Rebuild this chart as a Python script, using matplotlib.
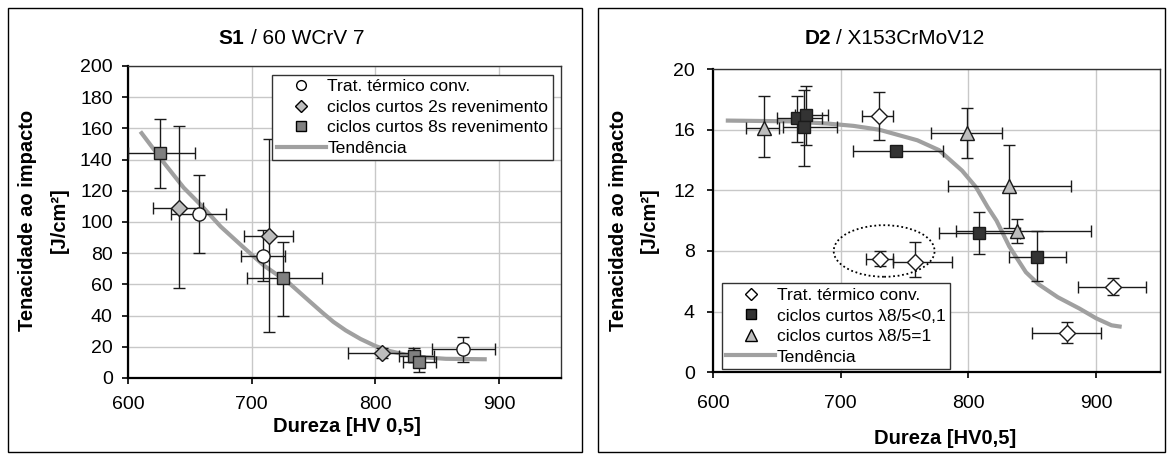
import numpy as np
import matplotlib
matplotlib.use('Agg')
import matplotlib.pyplot as plt
from matplotlib.lines import Line2D
from matplotlib.patches import Ellipse, Rectangle

plt.rcParams['font.family'] = ['Liberation Sans', 'DejaVu Sans']

W, H = 1171, 455

# ---------------- S1 data ----------------
s1_conv_x = [657, 709, 871]
s1_conv_y = [105, 78, 18.6]
s1_conv_xlo = [635, 691, 846]
s1_conv_xhi = [679, 727, 897]
s1_conv_ylo = [80, 62, 10]
s1_conv_yhi = [130, 95, 26.5]

s1_2s_x = [641, 714, 805]
s1_2s_y = [109, 91, 16]
s1_2s_xlo = [620, 694, 778]
s1_2s_xhi = [661, 733, 830]
s1_2s_ylo = [58, 29.5, 13]
s1_2s_yhi = [161.5, 153, 19]

s1_8s_x = [626, 725, 831, 835]
s1_8s_y = [144, 64, 14, 10.5]
s1_8s_xlo = [600, 696, 819, 822]
s1_8s_xhi = [654, 757, 847, 849]
s1_8s_ylo = [122, 39.5, 10, 4]
s1_8s_yhi = [166, 87, 19.4, 14]

s1_trend_x = [610, 630, 645, 660, 675, 693, 710, 730, 747, 757, 766, 776, 788, 800, 812, 825, 840, 857, 890]
s1_trend_y = [158, 137, 122, 110, 97, 84, 72, 61, 49, 42, 36, 30.5, 25, 20.5, 17.2, 14.8, 13.2, 12.3, 12]

# ---------------- D2 data ----------------
d2_conv_x = [730, 731, 758, 913, 877]
d2_conv_y = [16.9, 7.5, 7.3, 5.6, 2.6]
d2_conv_xlo = [717, 720, 741, 886, 850]
d2_conv_xhi = [741, 741, 787, 939, 904]
d2_conv_ylo = [15.3, 7.0, 6.3, 5.1, 1.9]
d2_conv_yhi = [18.5, 8.0, 8.6, 6.2, 3.3]

d2_sq_x = [666, 672.5, 671, 743.5, 808, 854]
d2_sq_y = [16.75, 16.95, 16.2, 14.6, 9.2, 7.6]
d2_sq_xlo = [650, 664, 655, 709.5, 777, 832]
d2_sq_xhi = [685, 690, 697, 780, 840, 876.5]
d2_sq_ylo = [15.2, 15.0, 13.6, 14.4, 7.8, 6.0]
d2_sq_yhi = [18.2, 18.9, 18.6, 14.8, 10.6, 9.3]

d2_tri_x = [640, 799, 832, 838]
d2_tri_y = [16.1, 15.8, 12.3, 9.3]
d2_tri_xlo = [626, 771, 784, 790]
d2_tri_xhi = [652, 826, 880, 896]
d2_tri_ylo = [14.2, 14.1, 9.5, 8.5]
d2_tri_yhi = [18.2, 17.4, 15.0, 10.1]

d2_trend_x = [610, 660, 690, 710, 730, 760, 777, 795, 806, 815, 822, 832, 845, 855, 870, 887, 900, 912, 920]
d2_trend_y = [16.6, 16.55, 16.4, 16.25, 16.0, 15.3, 14.65, 13.3, 12.2, 10.9, 10.0, 8.3, 6.6, 5.8, 4.95, 4.2, 3.56, 3.1, 3.0]

trend_color = '#a0a0a0'


def err(v, lo, hi):
    v = np.array(v, float)
    return [v - np.array(lo, float), np.array(hi, float) - v]


def series(ax, x, y, xlo, xhi, ylo, yhi, marker, fc, ms):
    ax.errorbar(x, y, xerr=err(x, xlo, xhi), yerr=err(y, ylo, yhi),
                fmt='none', ecolor='#1a1a1a', elinewidth=1, capsize=4,
                capthick=1, zorder=3)
    ax.plot(x, y, ls='none', marker=marker, ms=ms, mfc=fc, mec='#1a1a1a',
            mew=1, zorder=4)


def style(ax, xlim, ylim, yticks):
    ax.set_xlim(*xlim)
    ax.set_ylim(*ylim)
    ax.set_xticks([600, 700, 800, 900])
    ax.set_yticks(yticks)
    ax.grid(True, color='#c8c8c8', lw=1)
    ax.set_axisbelow(True)
    for s in ['top', 'right']:
        ax.spines[s].set_color('#333333')
        ax.spines[s].set_linewidth(1)
    for s in ['left', 'bottom']:
        ax.spines[s].set_color('black')
        ax.spines[s].set_linewidth(1.6)
    ax.tick_params(axis='both', direction='out', length=4, width=1.2,
                   labelsize=14)


def px(x, y):
    return x / W, 1 - y / H


fig = plt.figure(figsize=(W / 100, H / 100), dpi=100)

# panel frames
for x0, x1 in [(8, 582), (598, 1165)]:
    fig.patches.append(Rectangle(px(x0, 452), (x1 - x0) / W, (452 - 8) / H,
                                 transform=fig.transFigure, fill=False,
                                 ec='black', lw=1))

# ---------- left chart ----------
ax1 = fig.add_axes([128 / W, 1 - 378 / H, (561 - 128) / W, (378 - 66) / H])
style(ax1, (600, 950), (0, 200), np.arange(0, 201, 20))
ax1.tick_params(axis='x', pad=9)
ax1.tick_params(axis='y', pad=7)
ax1.plot(s1_trend_x, s1_trend_y, color=trend_color, lw=3, zorder=2,
         solid_capstyle='butt')
series(ax1, s1_8s_x, s1_8s_y, s1_8s_xlo, s1_8s_xhi, s1_8s_ylo, s1_8s_yhi,
       's', '#808080', 8)
series(ax1, s1_2s_x, s1_2s_y, s1_2s_xlo, s1_2s_xhi, s1_2s_ylo, s1_2s_yhi,
       'D', '#bdbdbd', 8)
series(ax1, s1_conv_x, s1_conv_y, s1_conv_xlo, s1_conv_xhi, s1_conv_ylo,
       s1_conv_yhi, 'o', 'white', 9.5)

h1 = [Line2D([], [], ls='none', marker='o', ms=7, mfc='white', mec='black'),
      Line2D([], [], ls='none', marker='D', ms=6, mfc='#bdbdbd', mec='black'),
      Line2D([], [], ls='none', marker='s', ms=7, mfc='#808080', mec='black'),
      Line2D([], [], color=trend_color, lw=3)]
l1 = ['Trat. térmico conv.', 'ciclos curtos 2s revenimento',
      'ciclos curtos 8s revenimento', 'Tendência']
leg1 = ax1.legend(h1, l1, loc='upper left', bbox_to_anchor=(0.333, 0.972),
                  fontsize=12.6, frameon=True, fancybox=False, framealpha=1,
                  edgecolor='#333333', borderpad=0.25, labelspacing=0.3,
                  handlelength=2.8, handletextpad=0.1, borderaxespad=0)
leg1.get_frame().set_linewidth(1)

# ---------- right chart ----------
ax2 = fig.add_axes([713 / W, 1 - 372.3 / H, (1160 - 713) / W, (372.3 - 69) / H])
style(ax2, (600, 950), (0, 20), np.arange(0, 21, 4))
ax2.tick_params(axis='x', pad=12)
ax2.tick_params(axis='y', pad=9)
ax2.plot(d2_trend_x, d2_trend_y, color=trend_color, lw=3, zorder=2,
         solid_capstyle='butt')
series(ax2, d2_tri_x, d2_tri_y, d2_tri_xlo, d2_tri_xhi, d2_tri_ylo,
       d2_tri_yhi, '^', '#bdbdbd', 10)
series(ax2, d2_sq_x, d2_sq_y, d2_sq_xlo, d2_sq_xhi, d2_sq_ylo, d2_sq_yhi,
       's', '#333333', 8)
series(ax2, d2_conv_x, d2_conv_y, d2_conv_xlo, d2_conv_xhi, d2_conv_ylo,
       d2_conv_yhi, 'D', 'white', 8.5)
ax2.add_patch(Ellipse((734, 8.0), 79, 3.4, fill=False, ec='black', lw=1.3,
                      ls=(0, (1, 1.5)), zorder=5))

h2 = [Line2D([], [], ls='none', marker='D', ms=6, mfc='white', mec='black'),
      Line2D([], [], ls='none', marker='s', ms=7, mfc='#333333', mec='black'),
      Line2D([], [], ls='none', marker='^', ms=8, mfc='#bdbdbd', mec='black'),
      Line2D([], [], color=trend_color, lw=3)]
l2 = ['Trat. térmico conv.', 'ciclos curtos λ8/5<0,1',
      'ciclos curtos λ8/5=1', 'Tendência']
leg2 = ax2.legend(h2, l2, loc='lower left', bbox_to_anchor=(0.02, 0.011),
                  fontsize=12.6, frameon=True, fancybox=False, framealpha=1,
                  edgecolor='#333333', borderpad=0.25, labelspacing=0.3,
                  handlelength=2.8, handletextpad=0.1, borderaxespad=0)
leg2.get_frame().set_linewidth(1)
leg2.set_zorder(6)

# ---------- titles and labels ----------
fig.text(*px(218, 38), 'S1', fontsize=15, fontweight='bold', ha='left', va='center')
fig.text(*px(251, 38), '/ 60 WCrV 7', fontsize=15, ha='left', va='center')
fig.text(*px(805, 38), 'D2', fontsize=15, fontweight='bold', ha='left', va='center')
fig.text(*px(836, 38), '/ X153CrMoV12', fontsize=15, ha='left', va='center')

for xl, xj, yc in [(28, 59, 220), (618, 649, 220)]:
    fig.text(*px(xl, yc), 'Tenacidade ao impacto', fontsize=14.5,
             fontweight='bold', rotation=90, ha='center', va='center')
    fig.text(*px(xj, yc), '[J/cm²]', fontsize=14.5, fontweight='bold',
             rotation=90, ha='center', va='center')

fig.text(*px(347, 426), 'Dureza [HV 0,5]', fontsize=14.5, fontweight='bold',
         ha='center', va='center')
fig.text(*px(945, 439), 'Dureza [HV0,5]', fontsize=14.5, fontweight='bold',
         ha='center', va='center')

fig.savefig('out.png', dpi=100)
